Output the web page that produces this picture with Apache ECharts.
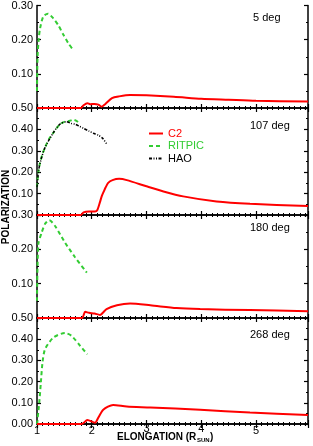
<!DOCTYPE html>
<html><head><meta charset="utf-8">
<script src="https://cdn.jsdelivr.net/npm/echarts@6/dist/echarts.min.js"></script>
<style>html,body{margin:0;padding:0;background:#fff}#c{width:313px;height:446px}</style>
</head><body><div id="c"></div>
<script>
// ---- data ----
const panelLabels = ['5 deg', '107 deg', '180 deg', '268 deg'];
const panelMax = [0.3, 0.5, 0.3, 0.5];
const xTicks = [1, 2, 3, 4, 5];

const c2_5 = [[1,0],[1.8,0],[1.85,0.008],[1.92,0.014],[1.97,0.011],[2.05,0.012],[2.12,0.010],[2.18,0.004],[2.25,0.012],[2.37,0.029],[2.5,0.034],[2.7,0.038],[3.0,0.037],[3.5,0.033],[4.0,0.027],[4.5,0.024],[5.0,0.021],[5.95,0.019]];
const rit_5 = [[1.0,0.05],[1.01,0.15],[1.03,0.2],[1.055,0.232],[1.115,0.268],[1.2,0.276],[1.3,0.262],[1.39,0.242],[1.48,0.215],[1.57,0.19],[1.66,0.17]];

const c2_107 = [[1,0],[1.8,0],[1.85,0.012],[1.95,0.016],[2.06,0.016],[2.1,0.022],[2.15,0.06],[2.18,0.086],[2.22,0.11],[2.25,0.127],[2.3,0.150],[2.38,0.163],[2.5,0.169],[2.64,0.163],[3.0,0.134],[3.31,0.11],[3.67,0.087],[4.28,0.063],[4.89,0.052],[5.95,0.042]];
const rit_107 = [[1.0,0.13],[1.02,0.19],[1.055,0.244],[1.1,0.285],[1.146,0.315],[1.22,0.355],[1.30,0.385],[1.42,0.425],[1.5,0.435],[1.6,0.44],[1.66,0.445],[1.72,0.44],[1.77,0.43]];
const hao_107 = [[1.0,0.13],[1.03,0.21],[1.08,0.265],[1.146,0.315],[1.3,0.385],[1.42,0.425],[1.54,0.436],[1.62,0.428],[1.7,0.424],[1.78,0.414],[1.85,0.405],[1.95,0.392],[2.03,0.382],[2.12,0.373],[2.2,0.358],[2.27,0.333]];

const c2_180 = [[1,0],[1.82,0],[1.88,0.018],[1.95,0.015],[2.05,0.013],[2.15,0.009],[2.27,0.026],[2.46,0.037],[2.7,0.042],[3.07,0.037],[3.55,0.029],[3.98,0.026],[4.89,0.023],[5.95,0.020]];
const rit_180 = [[1.0,0.05],[1.024,0.215],[1.086,0.249],[1.15,0.275],[1.225,0.285],[1.33,0.268],[1.51,0.22],[1.695,0.177],[1.91,0.132]];

const c2_268 = [[1,0],[1.82,0],[1.92,0.019],[2.06,0.006],[2.12,0.03],[2.21,0.067],[2.39,0.09],[2.64,0.082],[3.07,0.078],[3.98,0.067],[4.89,0.054],[5.95,0.043]];
const rit_268 = [[1.0,0.0],[1.04,0.098],[1.07,0.194],[1.10,0.289],[1.146,0.352],[1.3,0.408],[1.51,0.429],[1.63,0.416],[1.79,0.368],[1.92,0.329]];

// ---- layout ----
const FONT = '"Liberation Sans", Arial, Helvetica, sans-serif';
const gridBoxes = [[5,103],[108,107],[215,103],[318,106]];
const annotY = [18, 126, 228, 335];
const annotX = [253, 250, 250, 250];
const RED = '#ff0000', GREEN = '#33cc33';

const chart = echarts.init(document.getElementById('c'), null, {renderer:'canvas'});

const grid = gridBoxes.map(b => ({left:37, right:5, top:b[0], height:b[1], containLabel:false}));
const xAxis = [], yAxis = [];
const axisLine = {show:true, lineStyle:{color:'#000', width:1.5}};
for (let i = 0; i < 4; i++) {
  [ 'bottom', 'top' ].forEach(pos => {
    xAxis.push({
      type:'value', gridIndex:i, position:pos, min:1, max:5.95, interval:1,
      axisLine, splitLine:{show:false},
      axisTick:{show:true, inside:true, length:4, lineStyle:{color:'#000', width:1.2}},
      minorTick:{show:true, splitNumber:10, length:2, lineStyle:{color:'#000', width:1}},
      axisLabel:{show: (i === 3 && pos === 'bottom'), showMaxLabel:false, margin:5, verticalAlign:'middle',
        fontSize:11, fontFamily:FONT, color:'#000',
        formatter: v => xTicks.includes(v) ? ((v === 3 || v === 4) ? '{u|' + v + '}' : '{d|' + v + '}') : '',
        rich:{u:{fontSize:11, fontFamily:FONT, color:'#000', padding:[0,0,0,0]},
              d:{fontSize:11, fontFamily:FONT, color:'#000', padding:[4,0,0,0]}}}
    });
  });
  [ 'left', 'right' ].forEach(pos => {
    yAxis.push({
      type:'value', gridIndex:i, position:pos, min:0, max:panelMax[i], interval:0.1,
      axisLine, splitLine:{show:false},
      axisTick:{show:true, inside:true, length:4, lineStyle:{color:'#000', width:1.2}},
      minorTick:{show:true, splitNumber:2, length:2, lineStyle:{color:'#000', width:1}},
      axisLabel:{show: pos === 'left', showMinLabel: i === 3, margin:4, fontSize:11, fontFamily:FONT, color:'#000',
        formatter: v => v.toFixed(2)}
    });
  });
}

function mk(name, data, i, color, dash, width, z) {
  return {name, type:'line', data, xAxisIndex:i*2, yAxisIndex:i*2, symbol:'none', smooth:0.25,
    lineStyle:{color, width, type:dash}, itemStyle:{color}, z, animation:false};
}
const series = [
  mk('C2', c2_5, 0, RED, 'solid', 2, 3),
  mk('RITPIC', rit_5, 0, GREEN, [4,3], 2, 2),
  mk('C2', c2_107, 1, RED, 'solid', 2, 3),
  mk('RITPIC', rit_107, 1, GREEN, [4,3], 2, 2),
  mk('HAO', hao_107, 1, '#000', [3,1.5,1,1.5,1,1.5], 1.5, 4),
  mk('C2', c2_180, 2, RED, 'solid', 2, 3),
  mk('RITPIC', rit_180, 2, GREEN, [4,3], 2, 2),
  mk('C2', c2_268, 3, RED, 'solid', 2, 3),
  mk('RITPIC', rit_268, 3, GREEN, [4,3], 2, 2)
];

const graphic = panelLabels.map((t, i) => ({
  type:'text', left: annotX[i], top: annotY[i] - 6,
  style:{text:t, font:'11px ' + FONT, fill:'#000'}
}));
graphic.push({type:'text', x:6, y:207, rotation:Math.PI/2,
  style:{text:'POLARIZATION', font:'bold 10px ' + FONT, fill:'#000', align:'center', verticalAlign:'middle'}});
graphic.push({type:'text', x:117, y:437.5, z:-1, style:{text:'ELONGATION (R', font:'bold 10px ' + FONT, fill:'#000', align:'left', verticalAlign:'middle'}});
graphic.push({type:'text', x:197, y:440.5, z:-1, style:{text:'SUN', font:'bold 6px ' + FONT, fill:'#000', align:'left', verticalAlign:'middle'}});
graphic.push({type:'text', x:210, y:437.5, z:-1, style:{text:')', font:'bold 10px ' + FONT, fill:'#000', align:'left', verticalAlign:'middle'}});

chart.setOption({
  animation:false,
  backgroundColor:'#fff',
  grid, xAxis, yAxis, series, graphic,
  legend:{
    orient:'vertical', left:148, top:128, itemWidth:14, itemHeight:11, itemGap:1.5, padding:0,
    itemStyle:{opacity:0},
    textStyle:{fontSize:11, fontFamily:FONT},
    data:[
      {name:'C2', textStyle:{color:RED}},
      {name:'RITPIC', textStyle:{color:GREEN}},
      {name:'HAO', textStyle:{color:'#000'}}
    ]
  }
});
</script></body></html>
